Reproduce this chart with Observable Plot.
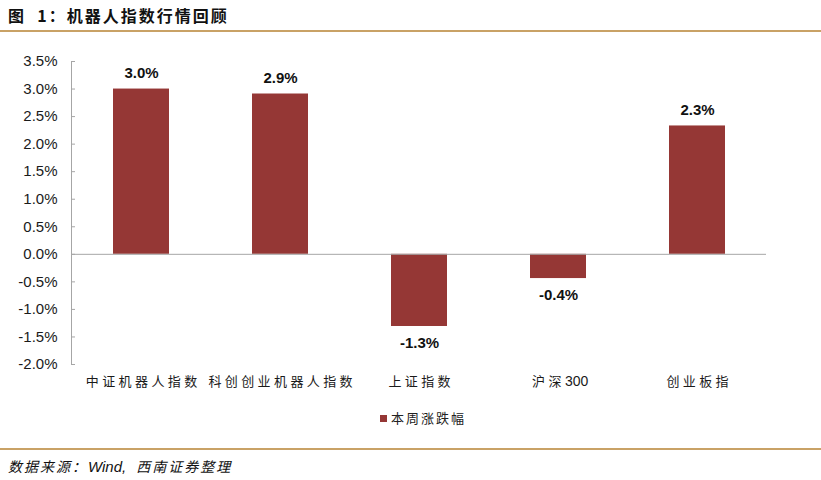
<!DOCTYPE html>
<html>
<head>
<meta charset="utf-8">
<script src="https://cdn.jsdelivr.net/npm/d3@7"></script>
<script src="https://cdn.jsdelivr.net/npm/@observablehq/plot@0.6"></script>
<style>
  html, body { margin: 0; padding: 0; background: #fff; }
  body { width: 821px; height: 480px; position: relative; overflow: hidden; font-family: "Liberation Sans", Arial, "Noto Sans CJK SC", sans-serif; color: #1a1a1a; }
  #title { position: absolute; left: 8px; top: 4px; font-family: "Noto Sans CJK SC", sans-serif; font-weight: bold; font-size: 16px; letter-spacing: 2px; line-height: 22px; color: #111; white-space: nowrap; }
  #topline { position: absolute; left: 0; top: 30px; width: 821px; height: 2px; background: #c9a266; }
  #chart { position: absolute; left: 0; top: 33px; }
  #legend { position: absolute; left: 380px; top: 409px; font-family: "Noto Sans CJK SC", sans-serif; font-size: 13px; letter-spacing: 2px; line-height: 18px; color: #222; white-space: nowrap; }
  #legend .sw { display: inline-block; width: 7px; height: 7px; background: #953735; margin-right: 4px; vertical-align: 1px; }
  #botline { position: absolute; left: 0; top: 448px; width: 821px; height: 2px; background: #c9a266; }
  #source { position: absolute; left: 8px; top: 455px; font-family: "Noto Sans CJK SC", "Liberation Sans", sans-serif; font-style: italic; font-size: 14px; line-height: 22px; color: #111; white-space: nowrap; }
  #source .cjk { letter-spacing: 2px; }
  #source .lat { font-family: "Liberation Sans", Arial, sans-serif; font-size: 15px; margin-right: 10px; }
</style>
</head>
<body>
<div id="title">图&nbsp;&nbsp;1：机器人指数行情回顾</div>
<div id="topline"></div>
<div id="chart"></div>
<div id="legend"><span class="sw"></span>本周涨跌幅</div>
<div id="botline"></div>
<div id="source"><span class="cjk">数据来源：</span><span class="lat">Wind,</span><span class="cjk">西南证券整理</span></div>
<script>
const categories = ["中证机器人指数", "科创创业机器人指数", "上证指数", "沪深300", "创业板指"];
const weeklyChange = [3.0, 2.91, -1.31, -0.44, 2.33];
const seriesName = "本周涨跌幅";
const yTicks = [-2.0, -1.5, -1.0, -0.5, 0.0, 0.5, 1.0, 1.5, 2.0, 2.5, 3.0, 3.5];

const data = categories.map((c, i) => ({category: c, value: weeklyChange[i]}));
const fmt = d => d.toFixed(1) + "%";
const barColor = "#953735";

const chart = Plot.plot({
  width: 821,
  height: 360,
  marginTop: 28,
  marginBottom: 29,
  marginLeft: 71,
  marginRight: 55,
  style: {fontFamily: "'Liberation Sans', Arial, sans-serif", fontSize: "13px", color: "#1a1a1a", background: "#fff"},
  x: {domain: categories, paddingInner: 0.6, paddingOuter: 0.3, label: null},
  y: {domain: [-2.0, 3.5], label: null},
  marks: [
    Plot.frame({anchor: "left", stroke: "#a6a6a6"}),
    Plot.axisY({ticks: yTicks, tickSize: 0, tickPadding: 14, tickFormat: fmt, fontSize: 15, fill: "#1a1a1a"}),
    Plot.axisY({ticks: yTicks, tickSize: -4, text: null, stroke: "#a6a6a6", strokeOpacity: 1}),
    Plot.barY(data, {x: "category", y: "value", fill: barColor}),
    Plot.ruleY([0], {stroke: "#a6a6a6"}),
    Plot.axisX({tickSize: 0, tickPadding: 12, fontFamily: "'Noto Sans CJK SC', sans-serif", fontSize: 13, fill: "#1a1a1a", dx: 1.7}),
    Plot.text(data, {
      x: "category", y: "value", text: d => fmt(d.value),
      fontWeight: "bold", fontSize: 15, fill: "#111",
      filter: d => d.value >= 0, dy: -16
    }),
    Plot.text(data, {
      x: "category", y: "value", text: d => fmt(d.value),
      fontWeight: "bold", fontSize: 15, fill: "#111",
      filter: d => d.value < 0, dy: 17
    })
  ]
});
// Space out only the CJK characters of the category labels (digits stay tight)
d3.select(chart).selectAll('g[aria-label="x-axis tick label"] text').each(function () {
  const t = d3.select(this);
  const s = t.text();
  t.text(null);
  const runs = s.match(/[0-9A-Za-z]+|[^0-9A-Za-z]+/g) || [];
  runs.forEach(r => {
    const isLat = /^[0-9A-Za-z]+$/.test(r);
    t.append("tspan").attr("font-family", isLat ? "'Liberation Sans', Arial, sans-serif" : null)
      .attr("font-size", isLat ? 14 : null)
      .style("letter-spacing", isLat ? "0px" : "3.4px").text(r);
  });
});
document.getElementById("chart").appendChild(chart);
</script>
</body>
</html>
